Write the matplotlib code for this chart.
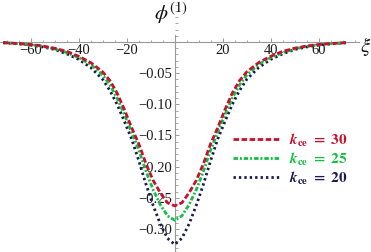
import matplotlib
matplotlib.use("Agg")
import matplotlib.pyplot as plt
import numpy as np
from matplotlib.ticker import FixedLocator, MultipleLocator

plt.rcParams['font.family'] = ['Liberation Serif', 'DejaVu Serif']
plt.rcParams['mathtext.fontset'] = 'stix'
plt.rcParams['lines.scale_dashes'] = False

# half-profile abscissae (curves are symmetric about xi = 0)
xi_half = [0, 3, 6, 9, 12, 15, 18, 21, 24, 27, 30, 35, 40, 45, 50, 55, 60, 65, 71.5]
phi_k30 = [-0.263, -0.258, -0.242, -0.222, -0.195, -0.163, -0.137, -0.108, -0.082,
           -0.062, -0.048, -0.033, -0.023, -0.015, -0.010, -0.0065, -0.004, -0.0025, -0.001]
phi_k25 = [-0.286, -0.279, -0.261, -0.237, -0.207, -0.173, -0.144, -0.116, -0.090,
           -0.069, -0.053, -0.036, -0.025, -0.017, -0.011, -0.007, -0.0045, -0.0028, -0.0011]
phi_k20 = [-0.325, -0.315, -0.292, -0.262, -0.228, -0.190, -0.155, -0.127, -0.100,
           -0.078, -0.060, -0.041, -0.028, -0.019, -0.012, -0.008, -0.005, -0.003, -0.0012]

x_ticks = [-60, -40, -20, 20, 40, 60]
x_labels = ['\u221260', '\u221240', '\u221220', '20', '40', '60']
y_ticks = [-0.30, -0.25, -0.20, -0.15, -0.10, -0.05]
y_labels = ['\u22120.30', '\u22120.25', '\u22120.20', '\u22120.15', '\u22120.10', '\u22120.05']

labels = [r'$\mathbfit{k}_{\mathbf{ce}}\ \mathbf{=\ 30}$',
          r'$\mathbfit{k}_{\mathbf{ce}}\ \mathbf{=\ 25}$',
          r'$\mathbfit{k}_{\mathbf{ce}}\ \mathbf{=\ 20}$']

def full(xh, yh):
    xs = [-v for v in xh[::-1]] + list(xh[1:])
    ys = list(yh[::-1]) + list(yh[1:])
    return xs, ys

fig = plt.figure(figsize=(3.71, 2.52), dpi=100)
ax = fig.add_axes([0, 0, 1, 1])
ax.patch.set_alpha(0)

c_red = '#C8102E'
c_green = '#10C040'
c_navy = '#1A1A4E'

x20, y20 = full(xi_half, phi_k20)
x25, y25 = full(xi_half, phi_k25)
x30, y30 = full(xi_half, phi_k30)

lw = 2.0
l20, = ax.plot(x20, y20, color=c_navy, lw=lw, dashes=(1.7, 2.2), zorder=3)
l25, = ax.plot(x25, y25, color=c_green, lw=lw, dashes=(3.2, 1.4, 1.4, 1.4), zorder=4)
l30, = ax.plot(x30, y30, color=c_red, lw=lw, dashes=(4.0, 1.8), zorder=5)

ax.set_xlim(-72.8, 81.8)
ax.set_ylim(-0.337, 0.0674)

for s in ['top', 'right']:
    ax.spines[s].set_visible(False)
ax.spines['left'].set_position(('data', 0))
ax.spines['bottom'].set_position(('data', 0))
ax.spines['bottom'].set_bounds(-72.8, 76.6)
ax.spines['left'].set_bounds(-0.337, 0.011)
for s in ['left', 'bottom']:
    ax.spines[s].set_color('#999999')
    ax.spines[s].set_linewidth(0.8)

ax.xaxis.set_major_locator(FixedLocator(x_ticks))
ax.set_xticklabels(x_labels)
ax.xaxis.set_minor_locator(MultipleLocator(5))
ax.yaxis.set_major_locator(FixedLocator(y_ticks))
ax.set_yticklabels(y_labels)
ax.yaxis.set_minor_locator(MultipleLocator(0.01))

ax.tick_params(axis='both', which='major', direction='in', length=3.2, width=0.7,
               color='#999999', labelsize=10.5, labelcolor='#1a1a1a')
ax.tick_params(axis='both', which='minor', direction='in', length=1.8, width=0.6,
               color='#999999')
ax.tick_params(axis='x', which='major', pad=1.5)
ax.tick_params(axis='y', which='major', pad=2)

ax.text(-1.5, 0.0465, r'$\phi^{(1)}$', fontsize=15, ha='center', va='center', color='#111111')
ax.text(79.5, -0.007, r'$\xi$', fontsize=15, ha='center', va='center', color='#111111')

leg = ax.legend([l30, l25, l20], labels, loc='upper left', bbox_to_anchor=(0.627, 0.478),
                frameon=False, fontsize=11, handlelength=3.1, handletextpad=0.6,
                labelspacing=0.12, borderpad=0, borderaxespad=0, labelcolor='linecolor')

fig.savefig('out.png', dpi=100)
